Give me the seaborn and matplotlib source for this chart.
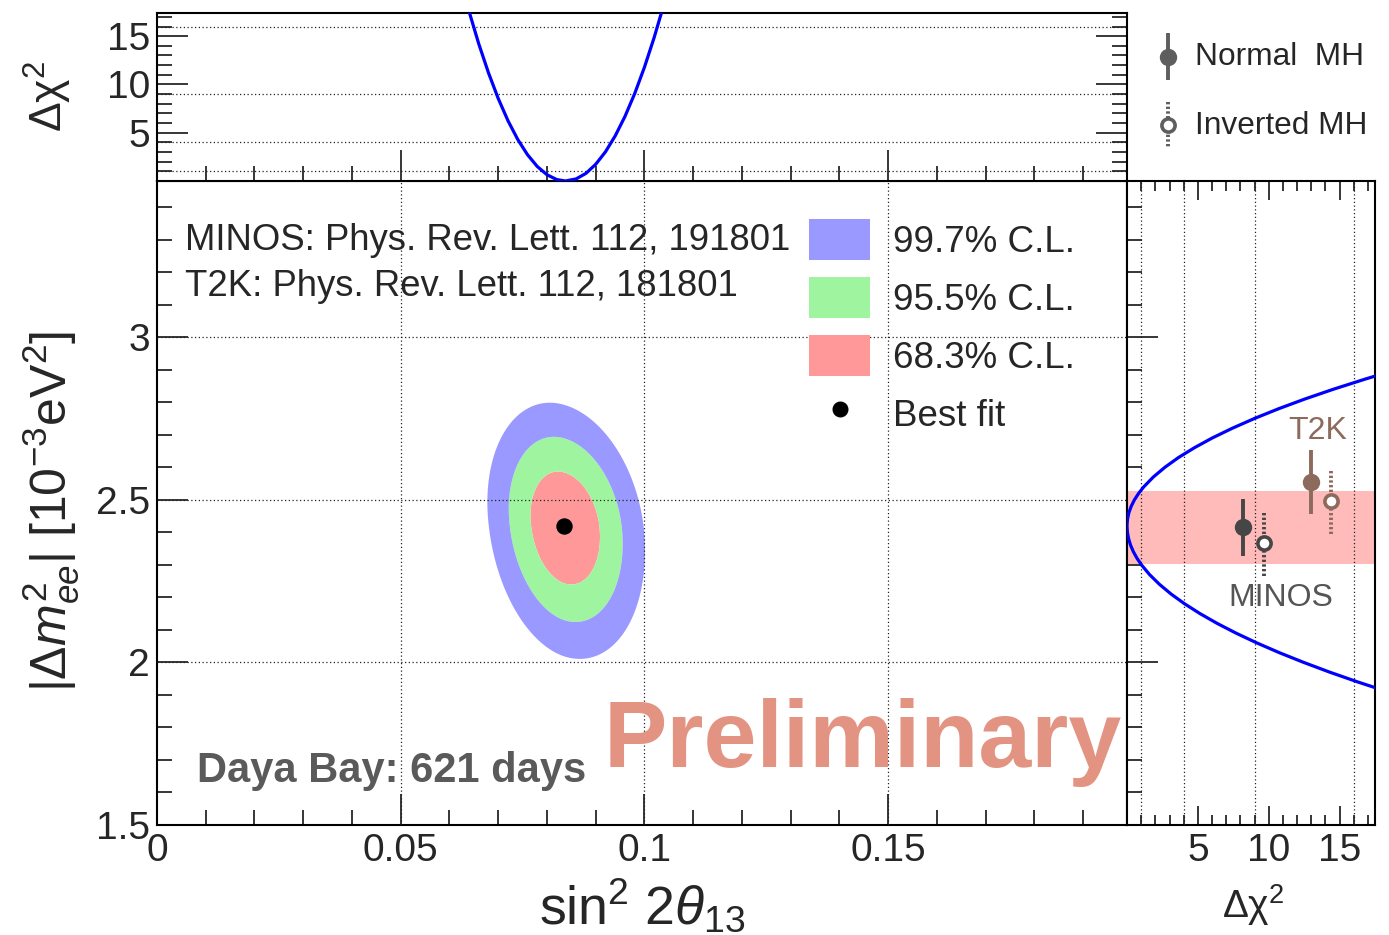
import numpy as np
import matplotlib
matplotlib.use("Agg")
import matplotlib.pyplot as plt
import seaborn as sns
import pandas as pd
from matplotlib.patches import Patch
from matplotlib.lines import Line2D
from matplotlib.ticker import MultipleLocator, FixedLocator, FixedFormatter

# ---------------- data ----------------
# best fit and Gaussian-like widths of the Daya Bay fit
best_fit_s2t = 0.0836
best_fit_dm2 = 2.42
sigma_s2t = [0.0046, 0.0048]      # left, right
sigma_dm2 = [0.119, 0.110]        # below, above
rho = -0.19
cl_levels = [2.30, 6.18, 11.83]   # 68.3%, 95.5%, 99.7% (2 dof)
cl_labels = ["68.3% C.L.", "95.5% C.L.", "99.7% C.L."]
cl_colors = ["#FF9999", "#9FF59F", "#9999FF"]

# top panel: delta chi2 profile vs sin^2 2theta13
prof_s2t = [0.064, 0.066, 0.068, 0.070, 0.072, 0.074, 0.076, 0.078, 0.080, 0.082,
            0.0838, 0.086, 0.088, 0.090, 0.092, 0.094, 0.096, 0.098, 0.100, 0.102, 0.104]
prof_s2t_chi2 = [17.6, 14.22, 11.21, 8.55, 6.25, 4.31, 2.73, 1.51, 0.65, 0.15,
                 0.0, 0.22, 0.79, 1.73, 3.02, 4.67, 6.68, 9.05, 11.78, 14.87, 18.3]

# right panel: delta chi2 profile vs |dm2_ee|
prof_dm2 = [2.885, 2.87, 2.84, 2.81, 2.78, 2.75, 2.72, 2.69, 2.66, 2.63, 2.60, 2.57,
            2.54, 2.52, 2.50, 2.48, 2.46, 2.44, 2.42, 2.40, 2.38, 2.36, 2.34,
            2.32, 2.30, 2.27, 2.24, 2.21, 2.18, 2.15, 2.12, 2.09, 2.06, 2.03,
            2.00, 1.97, 1.94, 1.91, 1.89]
prof_dm2_chi2 = [17.87, 16.74, 14.58, 12.57, 10.71, 9.0, 7.44, 6.02, 4.76, 3.64,
                 2.68, 1.86, 1.19, 0.826, 0.529, 0.298, 0.132, 0.033, 0.0, 0.028,
                 0.113, 0.254, 0.452, 0.706, 1.017, 1.589, 2.288, 3.114, 4.067,
                 5.148, 6.355, 7.69, 9.152, 10.74, 12.46, 14.30, 16.27, 18.37, 19.8]

# Daya Bay 1 sigma band on |dm2_ee|
band_dm2 = [2.303, 2.526]

# MINOS / T2K points
pt_exp = ["MINOS", "MINOS", "T2K", "T2K"]
pt_mh = ["Normal", "Inverted", "Normal", "Inverted"]
pt_chi2 = [8.19, 9.67, 12.96, 14.41]
pt_dm2 = [2.416, 2.367, 2.554, 2.495]
pt_lo = [2.326, 2.266, 2.457, 2.394]
pt_hi = [2.502, 2.461, 2.654, 2.589]
exp_colors = {"MINOS": "#464646", "T2K": "#8C6A5C"}

chi2_grid = [1, 4, 9, 16]

# ---------------- style ----------------
sns.set_theme(style="ticks")
plt.rcParams["font.family"] = ["Liberation Sans", "DejaVu Sans"]
plt.rcParams["mathtext.fontset"] = "custom"
plt.rcParams["mathtext.rm"] = "Liberation Sans"
plt.rcParams["mathtext.it"] = "Liberation Sans:italic"
plt.rcParams["mathtext.bf"] = "Liberation Sans:bold"
plt.rcParams["mathtext.sf"] = "Liberation Sans"
plt.rcParams["axes.linewidth"] = 1.5
plt.rcParams["axes.edgecolor"] = "black"

W, H = 1389, 935
fig = plt.figure(figsize=(W / 100, H / 100), dpi=100)

def frac(x0, y0, x1, y1):
    return [x0 / W, 1 - y1 / H, (x1 - x0) / W, (y1 - y0) / H]

ax = fig.add_axes(frac(157, 181, 1127, 825))
axt = fig.add_axes(frac(157, 13, 1127, 181))
axr = fig.add_axes(frac(1127, 181, 1375, 825))

XMAX = 0.199
YLIM = (1.5, 3.48)

TICK_FS = 28
grid_kw = dict(color="#222222", lw=0.9, ls=(0, (1, 2)))

# ---------------- main panel ----------------
xs = np.linspace(0.05, 0.12, 500)
ys = np.linspace(1.8, 3.0, 500)
X, Y = np.meshgrid(xs, ys)
u = (X - best_fit_s2t) / np.where(X < best_fit_s2t, sigma_s2t[0], sigma_s2t[1])
v = (Y - best_fit_dm2) / np.where(Y < best_fit_dm2, sigma_dm2[0], sigma_dm2[1])
chi2 = (u ** 2 - 2 * rho * u * v + v ** 2) / (1 - rho ** 2)
ax.contourf(X, Y, chi2, levels=[-1] + cl_levels, colors=cl_colors, zorder=1,
            antialiased=True)
sns.scatterplot(x=[best_fit_s2t], y=[best_fit_dm2], ax=ax, color="black",
                s=140, linewidth=0, zorder=5)

ax.set_xlim(0, XMAX)
ax.set_ylim(*YLIM)
ax.xaxis.set_major_locator(FixedLocator([0, 0.05, 0.1, 0.15]))
ax.xaxis.set_major_formatter(FixedFormatter(["0", "0.05", "0.1", "0.15"]))
ax.xaxis.set_minor_locator(MultipleLocator(0.01))
ax.yaxis.set_major_locator(FixedLocator([1.5, 2, 2.5, 3]))
ax.yaxis.set_major_formatter(FixedFormatter(["1.5", "2", "2.5", "3"]))
ax.yaxis.set_minor_locator(MultipleLocator(0.1))
ax.tick_params(which="both", direction="in", top=False, right=False,
               labelsize=TICK_FS, width=1.1, color="black")
ax.tick_params(which="major", length=22)
ax.tick_params(which="minor", length=11)
ax.tick_params(axis="x", pad=6)
ax.tick_params(axis="y", pad=5)
for xv in [0.05, 0.1, 0.15]:
    ax.axvline(xv, zorder=3, **grid_kw)
for yv in [2, 2.5, 3]:
    ax.axhline(yv, zorder=3, **grid_kw)
ax.set_xlabel("")
ax.set_ylabel("")

handles = [Patch(facecolor=cl_colors[2], edgecolor="none"),
           Patch(facecolor=cl_colors[1], edgecolor="none"),
           Patch(facecolor=cl_colors[0], edgecolor="none"),
           Line2D([], [], marker="o", color="black", ls="none", ms=10.5)]
labels = [cl_labels[2], cl_labels[1], cl_labels[0], "Best fit"]
leg = ax.legend(handles, labels, loc="upper left",
                bbox_to_anchor=((809 - 157) / 970, (825 - 219) / 644),
                frameon=False, fontsize=26.5, handlelength=1.66, handleheight=1.34,
                handletextpad=0.62, labelspacing=0.46, borderpad=0,
                borderaxespad=0)
leg.set_zorder(6)

ax.text((185 - 157) / 970, (825 - 240) / 644, "MINOS: Phys. Rev. Lett. 112, 191801",
        transform=ax.transAxes, fontsize=26.3, va="center", ha="left", zorder=6)
ax.text((185 - 157) / 970, (825 - 286) / 644, "T2K: Phys. Rev. Lett. 112, 181801",
        transform=ax.transAxes, fontsize=26.3, va="center", ha="left", zorder=6)
ax.text((197 - 157) / 970, (825 - 782) / 644, "Daya Bay: 621 days",
        transform=ax.transAxes, fontsize=30, fontweight="bold", color="#5A5A5A",
        va="baseline", ha="left", zorder=6)
ax.text((1122 - 157) / 970, (825 - 767) / 644, "Preliminary",
        transform=ax.transAxes, fontsize=68.5, fontweight="bold", color="#E39382",
        va="baseline", ha="right", zorder=6)

# ---------------- top panel ----------------
top_df = pd.DataFrame({"s2t": prof_s2t, "chi2": prof_s2t_chi2})
sns.lineplot(data=top_df, x="s2t", y="chi2", ax=axt, color="#0000FF", lw=2.3,
             sort=False, estimator=None, zorder=4)
axt.set_xlim(0, XMAX)
axt.set_ylim(0, 17.4)
axt.xaxis.set_major_locator(FixedLocator([0, 0.05, 0.1, 0.15]))
axt.xaxis.set_minor_locator(MultipleLocator(0.01))
axt.yaxis.set_major_locator(FixedLocator([5, 10, 15]))
axt.yaxis.set_major_formatter(FixedFormatter(["5", "10", "15"]))
axt.yaxis.set_minor_locator(MultipleLocator(1))
axt.tick_params(which="both", direction="in", top=False, right=True,
                labelbottom=False, labelsize=TICK_FS, width=1.1, color="black")
axt.tick_params(which="major", length=22)
axt.tick_params(which="minor", length=11)
axt.tick_params(axis="y", pad=5)
for g in chi2_grid:
    axt.axhline(g, zorder=3, **grid_kw)
axt.set_xlabel("")
axt.set_ylabel("")

# ---------------- right panel ----------------
axr.axhspan(band_dm2[0], band_dm2[1], color="#FFBABA", lw=0, zorder=1)
r_df = pd.DataFrame({"dm2": prof_dm2, "chi2": prof_dm2_chi2})
sns.lineplot(data=r_df, x="chi2", y="dm2", ax=axr, color="#0000FF", lw=2.3,
             sort=False, estimator=None, zorder=4)
for g in chi2_grid:
    axr.axvline(g, zorder=3, **grid_kw)

for e, mh, xc, yc, lo, hi in zip(pt_exp, pt_mh, pt_chi2, pt_dm2, pt_lo, pt_hi):
    col = exp_colors[e]
    if mh == "Normal":
        axr.vlines(xc, lo, hi, color=col, lw=2.8, zorder=5)
        axr.plot([xc], [yc], marker="o", ms=11.5, mfc=col, mec=col, ls="none", zorder=6)
    else:
        axr.vlines(xc, lo, hi, color=col, lw=2.8, linestyles=[(0, (0.6, 0.6))], zorder=5)
        axr.plot([xc], [yc], marker="o", ms=9.5, mfc="white", mec=col, mew=2.6,
                 ls="none", zorder=6)

axr.text(np.mean(pt_chi2[2:]) - 0.2, 2.665, "T2K", color=exp_colors["T2K"], fontsize=23,
         ha="center", va="bottom", zorder=6)
axr.text(np.mean(pt_chi2[:2]) + 1.9, 2.245, "MINOS", color="#555555", fontsize=23,
         ha="center", va="top", zorder=6)

axr.set_xlim(0, 17.5)
axr.set_ylim(*YLIM)
axr.xaxis.set_major_locator(FixedLocator([5, 10, 15]))
axr.xaxis.set_major_formatter(FixedFormatter(["5", "10", "15"]))
axr.xaxis.set_minor_locator(MultipleLocator(1))
axr.yaxis.set_major_locator(FixedLocator([1.5, 2, 2.5, 3]))
axr.yaxis.set_minor_locator(MultipleLocator(0.1))
axr.tick_params(which="both", direction="in", top=True, right=False,
                labelleft=False, labelsize=TICK_FS, width=1.1, color="black")
axr.tick_params(axis="y", which="major", length=22)
axr.tick_params(axis="y", which="minor", length=11)
axr.tick_params(axis="x", which="major", length=14, pad=6)
axr.tick_params(axis="x", which="minor", length=7)
axr.set_xlabel("")
axr.set_ylabel("")

# ---------------- axis titles ----------------
fig.text(642 / W, 1 - 906 / H, r"sin$^{2}$ 2$\theta_{13}$", fontsize=38.5,
         ha="center", va="center")
fig.text(51 / W, 1 - 511 / H, r"$|\Delta m^{2}_{ee}|\ [10^{-3}\mathrm{eV}^{2}]$",
         fontsize=36, rotation=90, ha="center", va="center")
fig.text(48 / W, 1 - 96 / H, r"$\Delta\mathrm{\chi}^{2}$", fontsize=32, rotation=90,
         ha="center", va="center")
fig.text(1253 / W, 1 - 905 / H, r"$\Delta\mathrm{\chi}^{2}$", fontsize=28,
         ha="center", va="center")

# ---------------- MH legend (top right) ----------------
lax = fig.add_axes([0, 0, 1, 1])
lax.set_xlim(0, W)
lax.set_ylim(H, 0)
lax.axis("off")
lax.patch.set_alpha(0)
leg_col = "#5E5E5E"
lax.vlines(1168, 33, 80, color=leg_col, lw=2.8)
lax.plot([1168], [57], marker="o", ms=11.5, mfc=leg_col, mec=leg_col, ls="none")
lax.vlines(1168, 102, 148, color=leg_col, lw=2.8, linestyles=[(0, (0.6, 0.6))])
lax.plot([1168], [125], marker="o", ms=9.5, mfc="white", mec=leg_col, mew=2.6, ls="none")
lax.text(1195, 57, "Normal  MH", fontsize=22.8, va="center", ha="left")
lax.text(1195, 126, "Inverted MH", fontsize=22.8, va="center", ha="left")

fig.savefig("out.png", dpi=100)
